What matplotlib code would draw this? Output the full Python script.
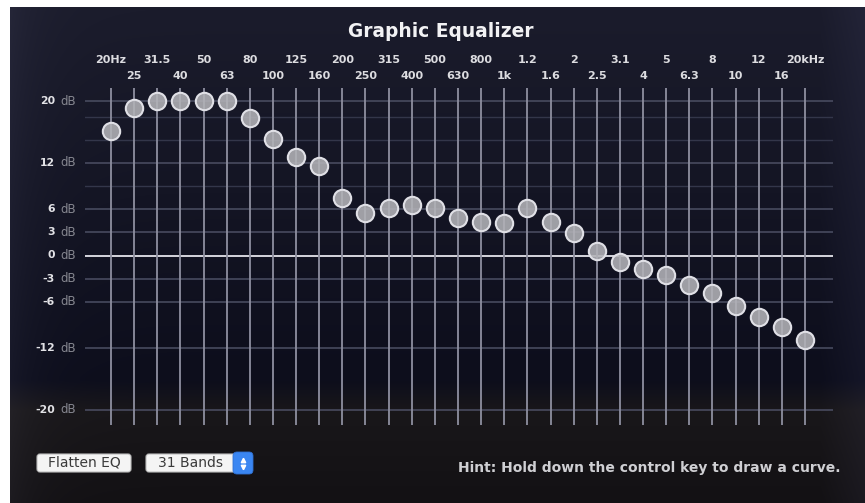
import numpy as np
import matplotlib
matplotlib.use('Agg')
import matplotlib.pyplot as plt
from matplotlib.patches import FancyBboxPatch

plt.rcParams['font.family'] = ['DejaVu Sans']

# --- data -------------------------------------------------------------
band_labels = ['20Hz', '25', '31.5', '40', '50', '63', '80', '100', '125', '160',
               '200', '250', '315', '400', '500', '630', '800', '1k', '1.2', '1.6',
               '2', '2.5', '3.1', '4', '5', '6.3', '8', '10', '12', '16', '20kHz']
gains = [16.1, 19.1, 20.0, 20.0, 20.0, 20.0, 17.8, 15.1, 12.7, 11.6,
         7.4, 5.5, 6.1, 6.5, 6.2, 4.9, 4.3, 4.2, 6.1, 4.3,
         2.9, 0.6, -0.9, -1.7, -2.5, -3.8, -4.8, -6.6, -8.0, -9.3, -10.9]
db_ticks = [20, 12, 6, 3, 0, -3, -6, -12, -20]
db_minor = [18, 15, 9]

W, H = 865, 503
fig = plt.figure(figsize=(W / 100, H / 100), dpi=100)
fig.patch.set_facecolor('white')

# background layer in pixel units
bg = fig.add_axes([0, 0, 1, 1])
bg.set_xlim(0, W)
bg.set_ylim(H, 0)
bg.axis('off')

py, px = np.mgrid[7:H, 10:W].astype(float)
t = np.clip((py - 7) / 370.0, 0, 1)[..., None]
navy = (1 - t) * np.array([27, 28, 44]) + t * np.array([13, 14, 28])
b = np.clip((py - 380) / 30.0, 0, 1)[..., None]
grey = np.array([25, 23, 26]) - np.clip((py - 410) / 90.0, 0, 1)[..., None] * 6
img = (1 - b) * navy + b * grey
img += np.exp(-(px - 10) / 30.0)[..., None] * np.array([10, 10, 12])
img += np.clip((px - 820) / 45.0, 0, 1)[..., None] * np.array([8, 8, 12])
bg.imshow(np.clip(img, 0, 255).astype(np.uint8), extent=(10, W, H, 7),
          aspect='auto', interpolation='bilinear', zorder=0)

# main plot area
ax = fig.add_axes([85 / W, 1 - 425 / H, 748 / W, 337 / H])
ax.patch.set_alpha(0)
step = (805 - 111) / 30.0
ax.set_xlim(-(111 - 85) / step, (833 - 111) / step)
ax.set_ylim((255.5 - 425) / 7.72, (255.5 - 88) / 7.72)
for s in ax.spines.values():
    s.set_visible(False)
ax.set_xticks([])
ax.set_yticks([])

for g in db_minor:
    ax.axhline(g, color='#33364a', lw=1.0, zorder=1)
for g in db_ticks:
    if g == 0:
        ax.axhline(g, color='#d6d6de', lw=1.4, zorder=2)
    else:
        ax.axhline(g, color='#4c4f64', lw=1.1, zorder=1)

idx = np.arange(len(band_labels))
for i in idx:
    ax.axvline(i, color='#8e8fa0', lw=1.3, zorder=2)

ax.plot(idx, gains, 'o', ls='none', ms=12.5, mfc=(0.70, 0.70, 0.72, 0.88),
        mec='#e0e0e6', mew=1.5, zorder=5)

tx = ax.get_xaxis_transform()
for i, lab in enumerate(band_labels):
    yy = 1.083 if i % 2 == 0 else 1.036
    ax.text(i, yy, lab, transform=tx, ha='center', va='center',
            fontsize=8, fontweight='bold', color='#dcdce0')

ty = ax.get_yaxis_transform()
for g in db_ticks:
    ax.text(-30 / 748, g, str(g), transform=ty, ha='right', va='center',
            fontsize=7.8, fontweight='bold', color='#e2e2e6')
    ax.text(-25 / 748, g, 'dB', transform=ty, ha='left', va='center',
            fontsize=8.5, color='#85868f')

bg.text(441, 31, 'Graphic Equalizer', ha='center', va='center',
        fontsize=13.4, fontweight='bold', color='#f2f2f4')

# buttons
bg.add_patch(FancyBboxPatch((37, 454), 94, 18, boxstyle='round,pad=0,rounding_size=3',
                            fc='#f4f4f4', ec='#bdbdbd', lw=0.8, zorder=3))
bg.text(84, 463, 'Flatten EQ', ha='center', va='center', fontsize=10,
        color='#3a3a3a', zorder=4)
bg.add_patch(FancyBboxPatch((146, 454), 104, 18, boxstyle='round,pad=0,rounding_size=3',
                            fc='#f4f4f4', ec='#bdbdbd', lw=0.8, zorder=3))
bg.text(190, 463, '31 Bands', ha='center', va='center', fontsize=10,
        color='#3a3a3a', zorder=4)
bg.add_patch(FancyBboxPatch((233, 452), 20, 22, boxstyle='round,pad=0,rounding_size=4',
                            fc='#3a86f2', ec='#2f6fd0', lw=0.6, zorder=5))
bg.plot([243], [459.5], marker='^', ms=3.2, color='white', zorder=6)
bg.plot([243], [466.5], marker='v', ms=3.2, color='white', zorder=6)

bg.text(841, 468, 'Hint: Hold down the control key to draw a curve.',
        ha='right', va='center', fontsize=10, fontweight='bold', color='#cfcfd3')

fig.savefig('out.png', dpi=100)
